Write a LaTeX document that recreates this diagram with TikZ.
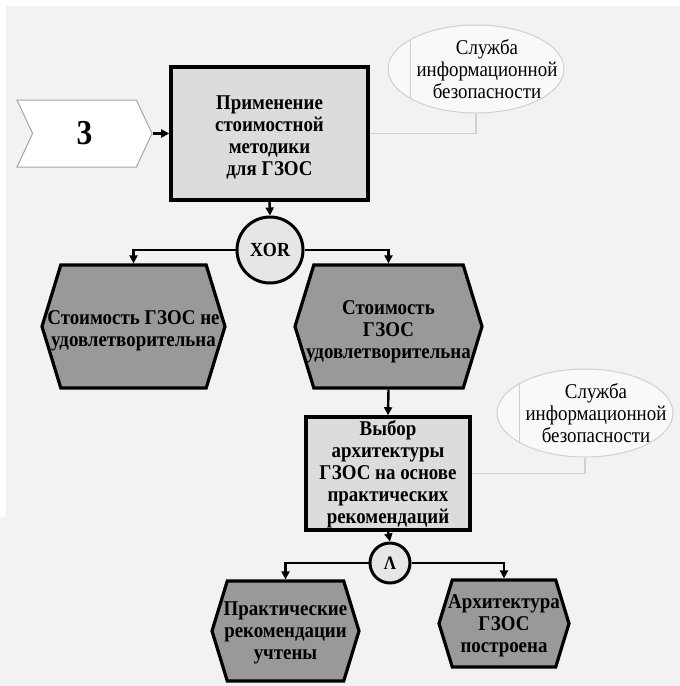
\documentclass[tikz,border=0pt]{standalone}
\usepackage{fontspec}
\setmainfont{Liberation Serif}[FakeStretch=0.9]
\usetikzlibrary{shapes.geometric,shapes.symbols,arrows.meta}
\definecolor{bggray}{HTML}{F2F2F2}
\definecolor{boxgray}{HTML}{DCDCDC}
\definecolor{hexgray}{HTML}{999999}
\definecolor{gategray}{HTML}{E6E6E6}
\definecolor{sibfill}{HTML}{F9F9F9}
\definecolor{sibline}{HTML}{D0D0D0}
\definecolor{chevline}{HTML}{A6A6A6}
\begin{document}
\begin{tikzpicture}[x=1pt, y=-1pt, >={Triangle[length=8pt,width=8pt]},
        txt/.style={font=\bfseries\fontsize{21}{22}\selectfont, align=center},
        box/.style={draw, line width=3.6pt, fill=boxgray, inner sep=0pt},
        hexbox/.style={shape=signal, signal to=east and west, signal pointer angle=146,
            draw, line width=3.2pt, fill=hexgray, inner sep=0pt},
        gate/.style={circle, draw, line width=3pt, fill=gategray, inner sep=0pt},
        sib/.style={ellipse, draw=sibline, line width=1pt, fill=sibfill, inner sep=0pt,
            minimum width=176pt, minimum height=88pt,
            path picture={\draw[sibline, line width=1pt]
                ([xshift=22pt]path picture bounding box.north west) --
                ([xshift=22pt]path picture bounding box.south west);}},
        sibtext/.style={font=\fontsize{21}{22}\selectfont, align=center, xshift=11pt},
        conn/.style={draw=sibline, line width=1.4pt},
        flow/.style={->, line width=2.4pt}]
    \useasboundingbox (0,0) rectangle (680,686);
    \fill[white] (0,0) rectangle (680,686);
    \fill[bggray] (6,6) rectangle (680,686);
    \fill[bggray] (0,517) rectangle (6,686);

    \node[shape=signal, signal from=west, signal to=east, signal pointer angle=130,
        draw=chevline, fill=white, line width=1pt, inner sep=0pt,
        minimum width=135pt, minimum height=67pt,
        font=\bfseries\fontsize{35}{35}\selectfont] (start) at (84.5,133.5) {3};
    \node[box, minimum width=197pt, minimum height=133pt,
        label={[txt, yshift=-4pt]center:{Применение\\стоимостной\\методики\\для ГЗОС}}] (app) at (269.5,133.5) {};
    \node[sib, label={[sibtext]center:{Служба\\информационной\\безопасности}}] (sib1) at (476,69) {};
    \node[gate, minimum size=66pt, font=\bfseries\fontsize{20}{20}\selectfont] (xor) at (270,250) {XOR};
    \node[hexbox, minimum width=183pt, minimum height=123pt,
        label={[txt, yshift=-4pt]center:{Стоимость ГЗОС не\\удовлетворительна}}] (bad) at (133.5,326.5) {};
    \node[hexbox, minimum width=187pt, minimum height=123pt,
        label={[txt, yshift=-5pt]center:{Стоимость\\ГЗОС\\удовлетворительна}}] (good) at (388.5,326.5) {};
    \node[box, minimum width=164pt, minimum height=113pt,
        label={[txt, yshift=-1pt]center:{Выбор\\архитектуры\\ГЗОС на основе\\практических\\рекомендаций}}] (choice) at (388,473.5) {};
    \node[sib, label={[sibtext]center:{Служба\\информационной\\безопасности}}] (sib2) at (585,413) {};
    \node[gate, minimum size=40pt, font=\bfseries\fontsize{19}{19}\selectfont] (and) at (390,563) {Λ};
    \node[hexbox, minimum width=147pt, minimum height=100pt,
        label={[txt, yshift=-2pt]center:{Практические\\рекомендации\\учтены}}] (pract) at (285.5,631) {};
    \node[hexbox, minimum width=130pt, minimum height=87pt,
        label={[txt, yshift=-2pt]center:{Архитектура\\ГЗОС\\построена}}] (arch) at (504,623.5) {};

    \draw[conn] (app.east) -| (sib1.south);
    \draw[conn] (choice.east) -| (sib2.south);
    \draw[flow] (start.east) -- (app.west);
    \draw[flow] (app.south) -- (xor.north);
    \draw[flow] (xor) -| (bad);
    \draw[flow] (xor) -| (good);
    \draw[flow] (good.south) -- (choice.north);
    \draw[flow] (choice.south) -- (and.north);
    \draw[flow] (and) -| (pract);
    \draw[flow] (and) -| (arch);
\end{tikzpicture}
\end{document}
